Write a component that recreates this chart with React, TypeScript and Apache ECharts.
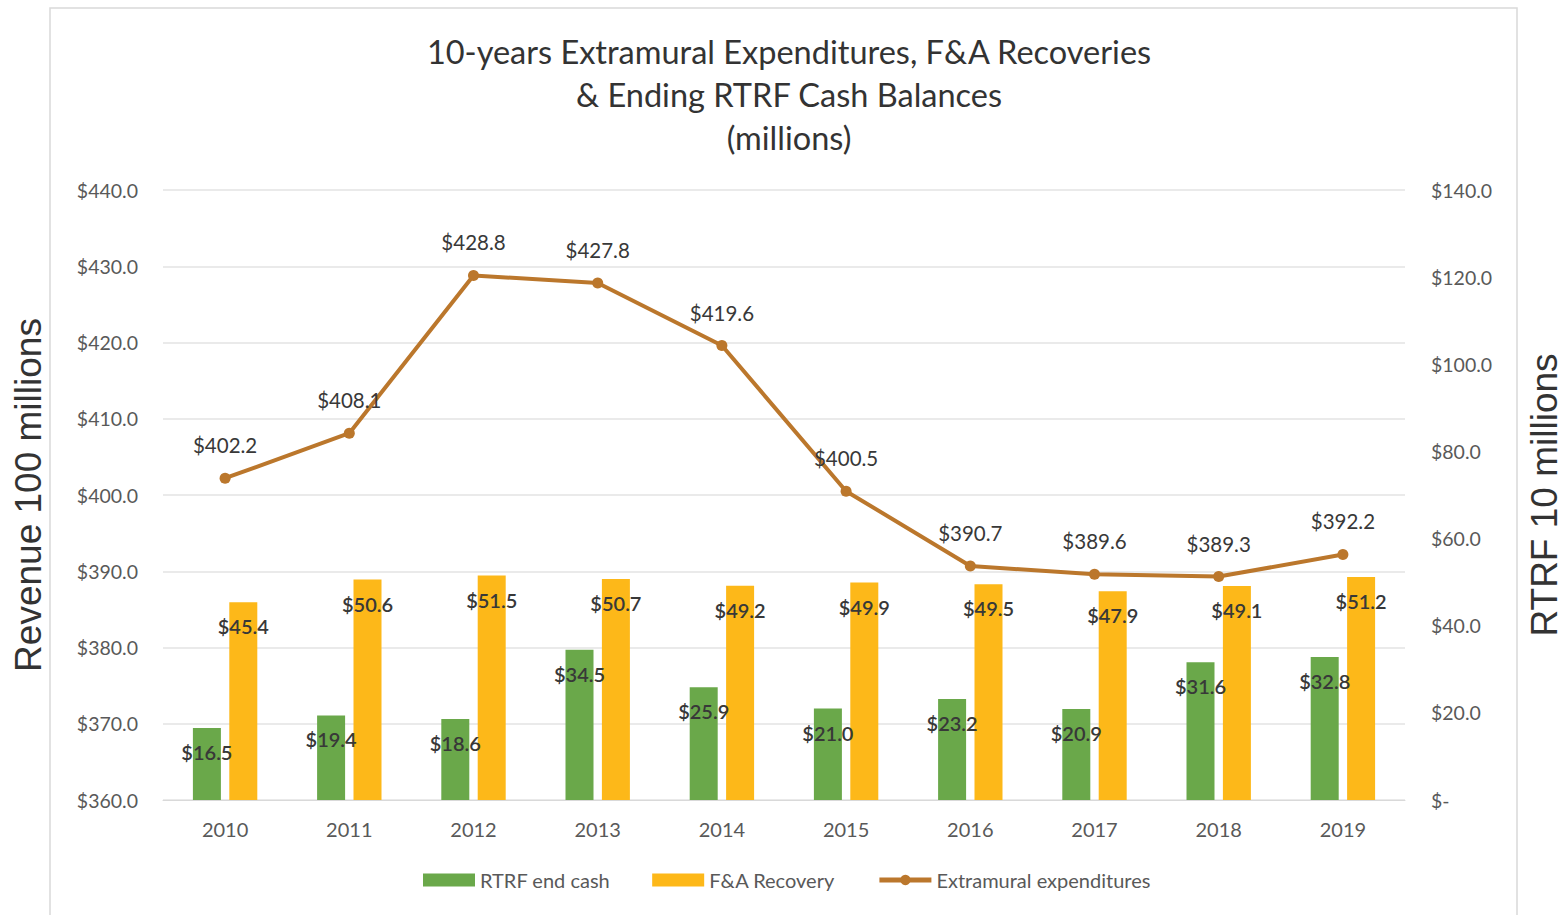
import React, { useEffect, useRef } from "react";
import * as echarts from "echarts";

const years = ["2010", "2011", "2012", "2013", "2014", "2015", "2016", "2017", "2018", "2019"];
const rtrfEndCash = [16.5, 19.4, 18.6, 34.5, 25.9, 21.0, 23.2, 20.9, 31.6, 32.8];
const faRecovery = [45.4, 50.6, 51.5, 50.7, 49.2, 49.9, 49.5, 47.9, 49.1, 51.2];
const extramural = [402.2, 408.1, 428.8, 427.8, 419.6, 400.5, 390.7, 389.6, 389.3, 392.2];

const titleText = "10-years Extramural Expenditures, F&A Recoveries\n& Ending RTRF Cash Balances\n(millions)";
const FONT = "Lato, 'Open Sans', sans-serif";
const NAME_FONT = "'Liberation Sans', Arial, sans-serif";

export default function App() {
  const ref = useRef<HTMLDivElement>(null);
  useEffect(() => {
    document.body.style.margin = "0";
    const chart = echarts.init(ref.current!, null, { renderer: "svg" });
    const barLabel = {
      show: true,
      position: "insideTop",
      distance: 14,
      color: "#383838",
      fontSize: 20,
      fontFamily: FONT,
      fontWeight: 600,
      formatter: (p: any) => "$" + Number(p.value).toFixed(1),
    };
    chart.setOption({
      animation: false,
      backgroundColor: "#ffffff",
      textStyle: { fontFamily: FONT },
      graphic: [
        {
          type: "rect",
          shape: { x: 50, y: 8, width: 1467, height: 930 },
          style: { fill: "none", stroke: "#d9d9d9", lineWidth: 1.5 },
          silent: true,
        },
      ],
      title: {
        text: titleText,
        left: 784,
        textAlign: "center",
        top: 25,
        textStyle: {
          fontFamily: FONT,
          fontSize: 32.5,
          fontWeight: "normal",
          color: "#333333",
          lineHeight: 43,
        },
      },
      legend: {
        bottom: 20,
        left: 418,
        itemGap: 42,
        itemWidth: 52,
        itemHeight: 13,
        textStyle: { fontSize: 20, color: "#595959", fontFamily: FONT },
        data: [
          { name: "RTRF end cash", icon: "rect" },
          { name: "F&A Recovery", icon: "rect" },
          { name: "Extramural expenditures", lineStyle: { width: 5 } },
        ],
      },
      grid: { left: 163, right: 161, top: 190, bottom: 115, outerBoundsMode: "none", containLabel: false },
      xAxis: {
        type: "category",
        data: years,
        axisLine: { show: true, lineStyle: { color: "#d9d9d9", width: 1 } },
        axisTick: { show: false },
        axisLabel: { fontSize: 20, color: "#595959", margin: 19, fontFamily: FONT },
      },
      yAxis: [
        {
          type: "value",
          min: 360,
          max: 440,
          interval: 10,
          name: "Revenue 100 millions",
          nameLocation: "middle",
          nameGap: 116,
          nameRotate: 90,
          nameTextStyle: { fontSize: 37, color: "#333333", fontFamily: NAME_FONT },
          axisLine: { show: false },
          axisTick: { show: false },
          axisLabel: {
            fontSize: 19.5,
            color: "#595959",
            margin: 25,
            fontFamily: FONT,
            formatter: (v: number) => "$" + v.toFixed(1),
          },
          splitLine: { show: true, lineStyle: { color: "#e3e3e3", width: 1.5 } },
        },
        {
          type: "value",
          min: 0,
          max: 140,
          interval: 20,
          name: "RTRF 10 millions",
          nameLocation: "middle",
          nameGap: 121,
          nameRotate: 90,
          nameTextStyle: { fontSize: 37, color: "#333333", fontFamily: NAME_FONT },
          axisLine: { show: false },
          axisTick: { show: false },
          axisLabel: {
            fontSize: 19.5,
            color: "#595959",
            margin: 26,
            fontFamily: FONT,
            formatter: (v: number) => (v === 0 ? "$-" : "$" + v.toFixed(1)),
          },
          splitLine: { show: false },
        },
      ],
      series: [
        {
          name: "RTRF end cash",
          type: "bar",
          yAxisIndex: 1,
          data: rtrfEndCash,
          barWidth: 28,
          barGap: "30%",
          itemStyle: { color: "#6aa84a" },
          label: barLabel,
        },
        {
          name: "F&A Recovery",
          type: "bar",
          yAxisIndex: 1,
          data: faRecovery,
          barWidth: 28,
          itemStyle: { color: "#fdb819" },
          label: barLabel,
        },
        {
          name: "Extramural expenditures",
          type: "line",
          yAxisIndex: 0,
          data: extramural,
          symbol: "circle",
          symbolSize: 11,
          lineStyle: { color: "#bb772c", width: 4 },
          itemStyle: { color: "#bb772c" },
          label: {
            show: true,
            position: "top",
            distance: 17,
            color: "#383838",
            fontSize: 20.5,
            fontFamily: FONT,
            formatter: (p: any) => "$" + Number(p.value).toFixed(1),
          },
        },
      ],
    });
    return () => chart.dispose();
  }, []);
  return <div ref={ref} style={{ width: 1566, height: 915 }} />;
}
